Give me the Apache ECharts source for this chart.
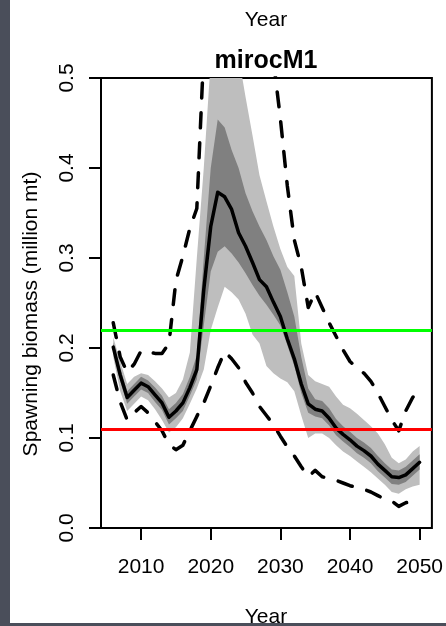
<!DOCTYPE html>
<html>
<head>
<meta charset="utf-8">
<script src="https://cdn.jsdelivr.net/npm/echarts@6/dist/echarts.min.js"></script>
<style>
html,body{margin:0;padding:0;background:#fff;}
#c{width:446px;height:626px;}
</style>
</head>
<body>
<div id="c"></div>
<script>
var years = [2006,2007,2008,2009,2010,2011,2012,2013,2014,2015,2016,2017,2018,2019,2020,2021,2022,2023,2024,2025,2026,2027,2028,2029,2030,2031,2032,2033,2034,2035,2036,2037,2038,2039,2040,2041,2042,2043,2044,2045,2046,2047,2048,2049,2050];
var median = [0.201,0.170,0.145,0.153,0.161,0.157,0.148,0.139,0.123,0.130,0.139,0.156,0.176,0.265,0.335,0.373,0.368,0.354,0.328,0.313,0.295,0.276,0.268,0.251,0.235,0.210,0.188,0.160,0.138,0.132,0.130,0.122,0.111,0.104,0.098,0.091,0.086,0.080,0.071,0.064,0.057,0.056,0.059,0.066,0.073];
var darkLo = [0.196,0.163,0.138,0.146,0.154,0.150,0.140,0.131,0.115,0.122,0.130,0.147,0.165,0.225,0.285,0.307,0.313,0.305,0.295,0.283,0.270,0.258,0.248,0.237,0.225,0.203,0.180,0.150,0.128,0.124,0.122,0.114,0.103,0.096,0.090,0.083,0.078,0.072,0.063,0.056,0.049,0.048,0.051,0.058,0.065];
var darkHi = [0.206,0.177,0.152,0.160,0.168,0.164,0.156,0.147,0.132,0.139,0.149,0.168,0.192,0.300,0.400,0.454,0.445,0.420,0.400,0.372,0.352,0.335,0.320,0.302,0.287,0.262,0.235,0.190,0.155,0.143,0.141,0.133,0.121,0.113,0.107,0.100,0.095,0.089,0.080,0.072,0.065,0.064,0.068,0.075,0.082];
var lightLo = [0.190,0.152,0.130,0.138,0.146,0.142,0.132,0.120,0.106,0.112,0.122,0.138,0.155,0.176,0.220,0.245,0.268,0.262,0.254,0.238,0.215,0.205,0.180,0.172,0.166,0.162,0.152,0.125,0.100,0.105,0.105,0.100,0.092,0.085,0.080,0.074,0.068,0.062,0.055,0.048,0.040,0.038,0.043,0.046,0.048];
var lightHi = [0.212,0.185,0.160,0.168,0.172,0.170,0.163,0.155,0.145,0.150,0.165,0.195,0.300,0.400,0.520,0.560,0.570,0.560,0.524,0.479,0.436,0.392,0.363,0.335,0.310,0.290,0.280,0.205,0.170,0.163,0.160,0.157,0.146,0.137,0.133,0.127,0.120,0.113,0.105,0.093,0.078,0.072,0.076,0.085,0.091];
var upperDash = [0.228,0.190,0.173,0.182,0.197,0.196,0.194,0.194,0.205,0.275,0.302,0.333,0.355,0.530,0.620,0.700,0.750,0.760,0.740,0.700,0.650,0.600,0.560,0.520,0.455,0.380,0.320,0.290,0.245,0.262,0.245,0.228,0.213,0.198,0.185,0.178,0.172,0.163,0.150,0.135,0.120,0.108,0.130,0.145,0.155];
var lowerDash = [0.170,0.140,0.120,0.128,0.135,0.128,0.118,0.108,0.093,0.087,0.092,0.108,0.124,0.139,0.158,0.178,0.196,0.188,0.178,0.162,0.150,0.135,0.125,0.115,0.102,0.090,0.080,0.068,0.057,0.064,0.057,0.055,0.053,0.050,0.047,0.045,0.043,0.040,0.036,0.032,0.030,0.024,0.028,0.030,0.030];
var refLines = [0.22, 0.112];
var refColors = ['#00ff00', '#ff0000'];
var xTicks = [2010, 2020, 2030, 2040, 2050];
var yTicks = [0, 0.1, 0.2, 0.3, 0.4, 0.5];

function pairs(vals){ return years.map(function(y,i){ return [y, vals[i]]; }); }
function bandSeries(lo, hi, color, z){
  return {
    type: 'custom', clip: true, z: z, silent: true,
    data: years.map(function(y,i){ return [y, lo[i], hi[i]]; }),
    encode: {x: 0, y: [1, 2]},
    renderItem: function(params, api){
      if (params.dataIndex !== 0) return null;
      var pts = [];
      for (var i = 0; i < years.length; i++) pts.push(api.coord([years[i], hi[i]]));
      for (var j = years.length - 1; j >= 0; j--) pts.push(api.coord([years[j], lo[j]]));
      var cs = params.coordSys;
      return {type: 'polygon', shape: {points: pts}, style: {fill: color, stroke: null},
        clipPath: {type: 'rect', shape: {x: cs.x, y: cs.y, width: cs.width, height: cs.height}}};
    }
  };
}

var FONT = '"Liberation Sans", Arial, Helvetica, sans-serif';
var chart = echarts.init(document.getElementById('c'), null, {renderer:'canvas'});
var option = {
  animation: false,
  backgroundColor: '#ffffff',
  grid: {left: 101, right: 14, top: 78, bottom: 98, show: true, borderColor: '#000', borderWidth: 2, backgroundColor: 'transparent'},
  xAxis: {
    type: 'value', min: 2004.24, max: 2051.76,
    splitLine: {show: false},
    axisLine: {show: false},
    axisTick: {show: true, customValues: xTicks, length: 12, lineStyle: {color: '#000', width: 2}},
    axisLabel: {customValues: xTicks, fontFamily: FONT, fontSize: 21, color: '#000', margin: 29,
      formatter: function(v){ return String(Math.round(v)); }}
  },
  yAxis: {
    type: 'value', min: 0, max: 0.5,
    splitLine: {show: false},
    axisLine: {show: false},
    axisTick: {show: true, customValues: yTicks, length: 12, lineStyle: {color: '#000', width: 2}},
    axisLabel: {customValues: yTicks, rotate: 90, fontFamily: FONT, fontSize: 21, color: '#000', margin: 23,
      formatter: function(v){ return v.toFixed(1); }}
  },
  graphic: [
    {type: 'text', x: 266, y: 20, z: 10, style: {text: 'Year', fill: '#000', font: '21px ' + FONT, textAlign: 'center', textVerticalAlign: 'middle'}},
    {type: 'text', x: 266, y: 61, z: 10, style: {text: 'mirocM1', fill: '#000', font: 'bold 25px ' + FONT, textAlign: 'center', textVerticalAlign: 'middle'}},
    {type: 'text', x: 266, y: 617, z: 10, style: {text: 'Year', fill: '#000', font: '21px ' + FONT, textAlign: 'center', textVerticalAlign: 'middle'}},
    {type: 'text', x: 31, y: 314, rotation: Math.PI/2, z: 10, style: {text: 'Spawning biomass (million mt)', fill: '#000', font: '21px ' + FONT, textAlign: 'center', textVerticalAlign: 'middle'}},
    {type: 'rect', z: 100, shape: {x: 0, y: 0, width: 10, height: 626}, style: {fill: '#4a4e5a'}},
    {type: 'rect', z: 100, shape: {x: 0, y: 623, width: 446, height: 3}, style: {fill: '#4a4e5a'}}
  ],
  series: [
    bandSeries(lightLo, lightHi, '#bebebe', 1),
    bandSeries(darkLo, darkHi, '#808080', 2),
    {type: 'line', data: pairs(median), symbol: 'none', lineStyle: {color: '#000', width: 3.5, join: 'round', cap: 'round'}, z: 3, silent: true},
    {type: 'line', data: pairs(upperDash), symbol: 'none', lineStyle: {color: '#000', width: 3.5, type: [15, 15], cap: 'round', join: 'round'}, z: 3, silent: true},
    {type: 'line', data: pairs(lowerDash), symbol: 'none', lineStyle: {color: '#000', width: 3.5, type: [15, 15], cap: 'round', join: 'round'}, z: 3, silent: true},
    {type: 'line', data: [], z: 5, silent: true,
      markLine: {symbol: 'none', silent: true, animation: false, label: {show: false},
        data: refLines.map(function(v, i){ return {yAxis: v, lineStyle: {color: refColors[i], width: 3, type: 'solid'}}; })}}
  ]
};
chart.setOption(option);
</script>
</body>
</html>
